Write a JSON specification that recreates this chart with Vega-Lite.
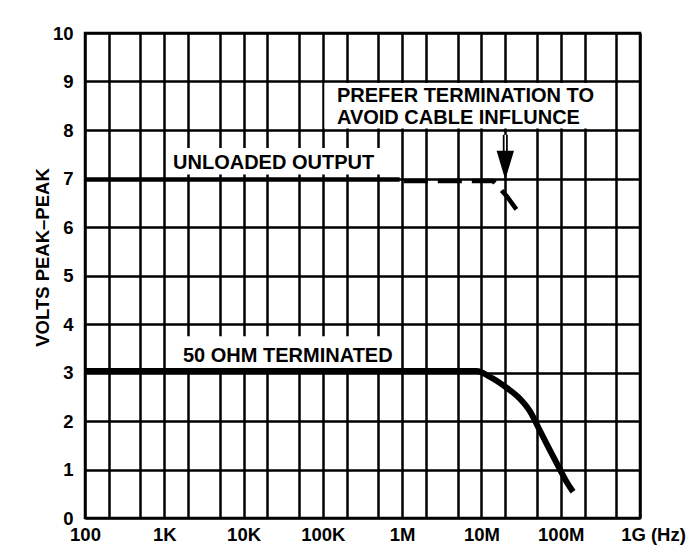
{
  "$schema": "https://vega.github.io/schema/vega-lite/v6.json",
  "width": 555,
  "height": 485,
  "autosize": {"type": "none"},
  "padding": {"left": 85, "top": 33, "right": 51, "bottom": 38},
  "background": "white",
  "config": {
    "font": "Liberation Sans",
    "view": {"stroke": "black", "strokeWidth": 2.5}
  },
  "datasets": {
    "boxes": [
      {"name": "unloaded label", "f": 1050, "f2": 952000, "v": 7.08, "v2": 7.63},
      {"name": "note", "f": 104500, "f2": 478000000, "v": 8.03, "v2": 8.97},
      {"name": "terminated label", "f": 1050, "f2": 952000, "v": 3.09, "v2": 3.75}
    ],
    "unloaded_solid": [
      {"f": 100, "v": 6.98},
      {"f": 930000, "v": 6.98}
    ],
    "unloaded_dashed": [
      {"f": 1050000, "v": 6.95},
      {"f": 14000000, "v": 6.95},
      {"f": 21000000, "v": 6.63},
      {"f": 28000000, "v": 6.35}
    ],
    "terminated": [
      {"f": 100, "v": 3.03},
      {"f": 8700000, "v": 3.03},
      {"f": 12800000, "v": 2.91},
      {"f": 21000000, "v": 2.68},
      {"f": 30600000, "v": 2.46},
      {"f": 41000000, "v": 2.2},
      {"f": 55000000, "v": 1.79},
      {"f": 73000000, "v": 1.4},
      {"f": 98000000, "v": 1.0},
      {"f": 120000000, "v": 0.73},
      {"f": 143000000, "v": 0.54}
    ],
    "arrow": [
      {"f": 20000000, "v": 7.9, "v2": 7.55, "tip": 7.275}
    ],
    "labels": [
      {"text": "UNLOADED OUTPUT", "f": 1290, "v": 7.2},
      {"text": "PREFER TERMINATION TO", "f": 150600, "v": 8.58},
      {"text": "AVOID CABLE INFLUNCE", "f": 150600, "v": 8.13},
      {"text": "50 OHM TERMINATED", "f": 1722, "v": 3.22}
    ]
  },
  "layer": [
    {
      "data": {"name": "boxes"},
      "mark": {"type": "rect", "color": "white", "opacity": 1},
      "encoding": {
        "x": {
          "field": "f", "type": "quantitative",
          "scale": {"type": "log", "domain": [100, 1000000000], "nice": false},
          "axis": {
            "orient": "bottom",
            "values": [100, 200, 500, 1000, 2000, 5000, 10000, 20000, 50000, 100000, 200000, 500000, 1000000, 2000000, 5000000, 10000000, 20000000, 50000000, 100000000, 200000000, 500000000, 1000000000],
            "grid": true, "gridColor": "black", "gridWidth": 2.5, "gridOpacity": 1,
            "domain": false, "ticks": false,
            "labelPadding": 7, "labelFontSize": 18.5, "labelFontWeight": "bold", "labelColor": "black",
            "labelOverlap": false, "labelFlush": false, "labelBound": false,
            "labelExpr": "datum.value == 100 ? '100' : datum.value == 1000 ? '1K' : datum.value == 10000 ? '10K' : datum.value == 100000 ? '100K' : datum.value == 1000000 ? '1M' : datum.value == 10000000 ? '10M' : datum.value == 100000000 ? '100M' : datum.value == 1000000000 ? '1G (Hz)' : ''",
            "labelOffset": {"condition": {"test": "datum.value >= 1000000000", "value": 13}, "value": 0},
            "title": null
          }
        },
        "x2": {"field": "f2"},
        "y": {
          "field": "v", "type": "quantitative",
          "scale": {"domain": [0, 10], "nice": false},
          "axis": {
            "values": [0, 1, 2, 3, 4, 5, 6, 7, 8, 9, 10],
            "grid": true, "gridColor": "black", "gridWidth": 2.5, "gridOpacity": 1,
            "domain": false, "ticks": false,
            "labelPadding": 12, "labelFontSize": 18.5, "labelFontWeight": "bold", "labelColor": "black",
            "labelOverlap": false, "labelFlush": false, "labelBound": false,
            "title": "VOLTS PEAK–PEAK",
            "titleFontSize": 18.5, "titleFontWeight": "bold", "titleColor": "black",
            "titleX": -33, "titleY": 224
          }
        },
        "y2": {"field": "v2"}
      }
    },
    {
      "data": {"name": "unloaded_solid"},
      "mark": {"type": "line", "color": "black", "strokeWidth": 4.5},
      "encoding": {
        "x": {"field": "f", "type": "quantitative"},
        "y": {"field": "v", "type": "quantitative"}
      }
    },
    {
      "data": {"name": "unloaded_dashed"},
      "mark": {"type": "line", "color": "black", "strokeWidth": 4.5, "strokeDash": [24, 10]},
      "encoding": {
        "x": {"field": "f", "type": "quantitative"},
        "y": {"field": "v", "type": "quantitative"}
      }
    },
    {
      "data": {"name": "terminated"},
      "mark": {"type": "line", "color": "black", "strokeWidth": 6, "interpolate": "monotone"},
      "encoding": {
        "x": {"field": "f", "type": "quantitative"},
        "y": {"field": "v", "type": "quantitative"}
      }
    },
    {
      "data": {"name": "arrow"},
      "mark": {"type": "rule", "color": "black", "strokeWidth": 5},
      "encoding": {
        "x": {"field": "f", "type": "quantitative"},
        "y": {"field": "v", "type": "quantitative"},
        "y2": {"field": "v2"}
      }
    },
    {
      "data": {"name": "arrow"},
      "mark": {"type": "rule", "color": "white", "strokeWidth": 1.5},
      "encoding": {
        "x": {"field": "f", "type": "quantitative"},
        "y": {"field": "v", "type": "quantitative"},
        "y2": {"field": "v2"}
      }
    },
    {
      "data": {"name": "arrow"},
      "mark": {"type": "point", "shape": "M-0.6,-1L0.6,-1L0,1Z", "filled": true, "color": "black", "opacity": 1, "size": 841},
      "encoding": {
        "x": {"field": "f", "type": "quantitative"},
        "y": {"field": "tip", "type": "quantitative"}
      }
    },
    {
      "data": {"name": "labels"},
      "mark": {"type": "text", "align": "left", "baseline": "alphabetic", "fontSize": 20, "fontWeight": "bold", "color": "black"},
      "encoding": {
        "x": {"field": "f", "type": "quantitative"},
        "y": {"field": "v", "type": "quantitative"},
        "text": {"field": "text"}
      }
    }
  ]
}
